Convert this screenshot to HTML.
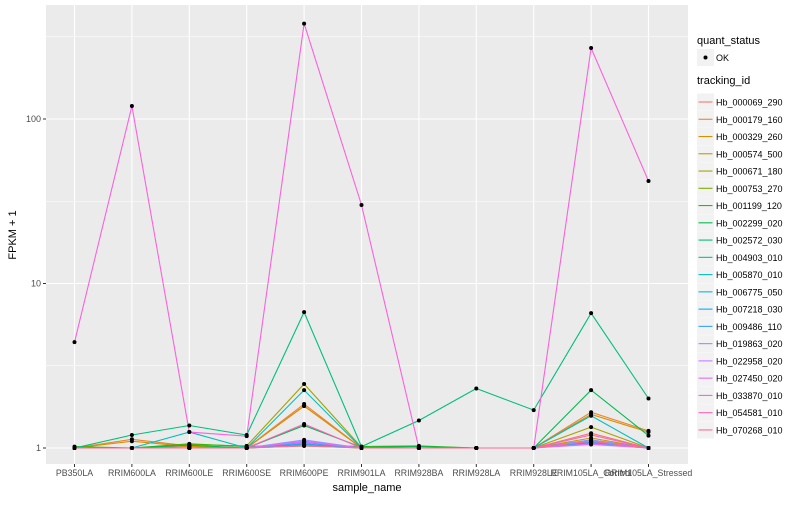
<!DOCTYPE html>
<html><head><meta charset="utf-8"><style>
body{margin:0;background:#fff;}
svg text{font-family:"Liberation Sans",Arial,sans-serif;}
</style></head><body>
<svg id="chart" width="800" height="500" xmlns="http://www.w3.org/2000/svg">
<rect width="800" height="500" fill="#fff"/>
<rect x="46" y="5" width="642" height="459" fill="#EBEBEB"/>
<g id="grid"></g>
<g id="lines"></g>
<g id="points"></g>
<g id="axes"></g>
<text x="367" y="491" font-size="11" text-anchor="middle" fill="#000">sample_name</text>
<text transform="translate(16,235) rotate(-90)" font-size="11" text-anchor="middle" fill="#000">FPKM + 1</text>
<g id="legend"></g>
</svg>
<script>
const categories=["PB350LA","RRIM600LA","RRIM600LE","RRIM600SE","RRIM600PE","RRIM901LA","RRIM928BA","RRIM928LA","RRIM928LE","RRIM105LA_Control","RRIM105LA_Stressed"];
const seriesNames=["Hb_000069_290","Hb_000179_160","Hb_000329_260","Hb_000574_500","Hb_000671_180","Hb_000753_270","Hb_001199_120","Hb_002299_020","Hb_002572_030","Hb_004903_010","Hb_005870_010","Hb_006775_050","Hb_007218_030","Hb_009486_110","Hb_019863_020","Hb_022958_020","Hb_027450_020","Hb_033870_010","Hb_054581_010","Hb_070268_010"];
const seriesColors=["#F8766D","#EA8331","#D89000","#C09B00","#A3A500","#7CAE00","#39B600","#00BB4E","#00BF7D","#00C1A3","#00BFC4","#00BAE0","#00B0F6","#35A2FF","#9590FF","#C77CFF","#E76BF3","#FA62DB","#FF62BC","#FF6C91"];
const s0=[1,1,1.02,1,1.8,1,1,1,1,1.23,1];
const s1=[1,1.13,1.03,1,1.85,1,1,1,1,1.65,1.27];
const s2=[1,1.1,1.02,1,1.8,1,1,1,1,1.6,1.25];
const s3=[1,1,1,1,1.05,1,1,1,1,1.15,1];
const s4=[1,1,1.05,1.03,2.45,1.01,1,1,1,1.34,1];
const s5=[1,1,1,1,1.03,1,1,1,1,1.1,1];
const s6=[1.02,1,1.06,1.02,1.05,1.02,1.03,1,1,1.12,1];
const s7=[1,1,1.04,1,1.37,1.01,1.02,1,1,2.25,1.19];
const s8=[1,1.2,1.37,1.2,6.7,1.02,1.47,2.3,1.7,6.6,2.0];
const s9=[1,1,1,1,1.05,1,1,1,1,1.08,1];
const s10=[1,1,1.25,1,2.25,1,1,1,1,1.57,1];
const s11=[1,1,1,1,1.1,1,1,1,1,1.1,1];
const s12=[1,1,1,1,1.08,1,1,1,1,1.07,1];
const s13=[1,1,1,1,1.06,1,1,1,1,1.09,1];
const s14=[1,1,1,1,1.12,1,1,1,1,1.12,1];
const s15=[1,1,1,1,1.1,1,1,1,1,1.05,1];
const s16=[1,1,1,1,1.09,1,1,1,1,1.06,1];
const s17=[4.4,120,1.25,1.18,380,30,1,1,1,270,42];
const s18=[1,1,1,1,1.4,1,1,1,1,1.2,1];
const s19=[1,1,1,1,1.03,1,1,1,1,1.1,1];
const seriesValues=[s0,s1,s2,s3,s4,s5,s6,s7,s8,s9,s10,s11,s12,s13,s14,s15,s16,s17,s18,s19];
const yTicks=[1,10,100];
const yTickLabels=["1","10","100"];
const yMinor=[Math.sqrt(10),Math.sqrt(1000),Math.sqrt(100000)];

const NS="http://www.w3.org/2000/svg";
const X0=74.5,DX=57.4,Y1=448,DEC=164.5,PL=46,PR=688,PT=5,PB=464;
function xs(i){return X0+DX*i;}
function ys(v){return Y1-DEC*Math.log10(v);}
function mk(tag,attrs,parent){const e=document.createElementNS(NS,tag);for(const k in attrs)e.setAttribute(k,attrs[k]);parent.appendChild(e);return e;}
const grid=document.getElementById('grid'),lines=document.getElementById('lines'),pts=document.getElementById('points'),axes=document.getElementById('axes'),leg=document.getElementById('legend');
yMinor.forEach(v=>{const l=mk('line',{x1:PL,x2:PR,y1:ys(v),y2:ys(v),stroke:'#fff','stroke-width':0.5},grid);

});
yTicks.forEach((v,i)=>{const l=mk('line',{x1:PL,x2:PR,y1:ys(v),y2:ys(v),stroke:'#fff','stroke-width':1.1},grid);


const t=mk('line',{x1:PL-3,x2:PL,y1:ys(v),y2:ys(v),stroke:'#333','stroke-width':1},axes);


const tx=mk('text',{x:PL-5,y:ys(v)+3,'font-size':9,'text-anchor':'end',fill:'#4D4D4D'},axes);tx.textContent=yTickLabels[i];

});
categories.forEach((c,i)=>{const l=mk('line',{x1:xs(i),x2:xs(i),y1:PT,y2:PB,stroke:'#fff','stroke-width':1.1},grid);


const t=mk('line',{x1:xs(i),x2:xs(i),y1:PB,y2:PB+3,stroke:'#333','stroke-width':1},axes);


const tx=mk('text',{x:xs(i),y:PB+12,'font-size':8.8,'text-anchor':'middle',fill:'#4D4D4D'},axes);tx.textContent=c;

});
seriesValues.forEach((vals,s)=>{const d=vals.map((v,i)=>(i?'L':'M')+xs(i).toFixed(1)+','+ys(v).toFixed(1)).join(' ');
const p=mk('path',{d:d,fill:'none',stroke:seriesColors[s],'stroke-width':1.1},lines);


vals.forEach((v,i)=>{const c=mk('circle',{cx:xs(i),cy:ys(v),r:2,fill:'#000'},pts);

});});
// legend
let t=mk('text',{x:697,y:44,'font-size':11,fill:'#000'},leg);t.textContent='quant_status';


let r=mk('rect',{x:697,y:49,width:17,height:17,fill:'#F2F2F2'},leg);


mk('circle',{cx:705.5,cy:57.5,r:2,fill:'#000'},leg);
t=mk('text',{x:716,y:61,'font-size':9,fill:'#000'},leg);t.textContent='OK';


t=mk('text',{x:697,y:84,'font-size':11,fill:'#000'},leg);t.textContent='tracking_id';


seriesNames.forEach((n,i)=>{const y=93.5+17.26*i;
const g=mk('g',{},leg);


mk('rect',{x:697,y:y,width:17,height:17,fill:'#F2F2F2'},g);
mk('line',{x1:698.5,x2:712.5,y1:y+8.5,y2:y+8.5,stroke:seriesColors[i],'stroke-width':1.1},g);
const tx=mk('text',{x:716,y:y+12,'font-size':9,fill:'#000'},g);tx.textContent=n;});
</script>
</body></html>
